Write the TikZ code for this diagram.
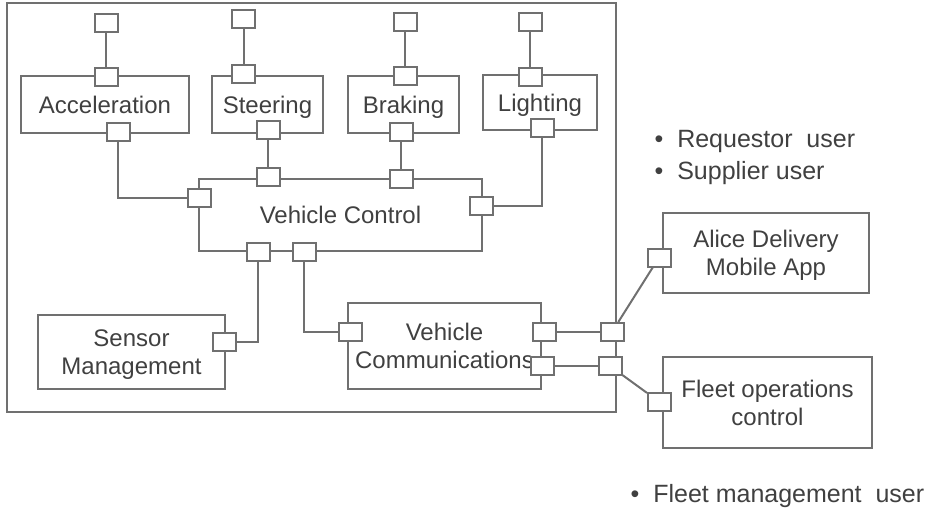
\documentclass[tikz,border=0pt]{standalone}
\usepackage{fontspec}
\setmainfont{Liberation Sans}
\definecolor{linec}{RGB}{112,112,112}
\definecolor{textc}{RGB}{64,64,64}
\begin{document}
\begin{tikzpicture}[x=1pt,y=-1pt,
  every node/.style={text=textc, font=\fontsize{24}{28}\selectfont},
  comp/.style={draw=linec, line width=2pt, inner sep=0pt, align=center},
  one/.style={text height=17pt, text depth=0pt},
  multi/.style={text depth=0pt},
  port/.style={draw=linec, line width=2pt, fill=white, minimum width=23pt, minimum height=18pt, inner sep=0pt},
  wire/.style={draw=linec, line width=2pt},
  bul/.style={anchor=base west, font=\fontsize{25}{30}\selectfont}]
\useasboundingbox (0,0) rectangle (930,509);
% system frame
\node[comp, minimum width=609pt, minimum height=409pt] (sys) at (311.5,207.5) {};
% components
\node[comp, one, minimum width=168pt, minimum height=57pt] (acc) at (105,104.5) {Acceleration};
\node[comp, one, minimum width=111pt, minimum height=57pt] (ste) at (267.5,104.5) {Steering};
\node[comp, one, minimum width=111pt, minimum height=57pt] (bra) at (403.5,104.5) {Braking};
\node[comp, one, minimum width=114pt, minimum height=55pt] (lig) at (540,102.5) {Lighting};
\node[comp, one, minimum width=283pt, minimum height=72pt] (vc) at (340.5,215) {Vehicle Control};
\node[comp, multi, minimum width=187pt, minimum height=74pt] (sen) at (131.5,352) {Sensor\\Management};
\node[comp, multi, minimum width=193pt, minimum height=86pt] (vcom) at (444.5,346) {Vehicle\\Communications};
\node[comp, multi, minimum width=206pt, minimum height=80pt] (app) at (766,253) {Alice Delivery\\Mobile App};
\node[comp, multi, minimum width=209pt, minimum height=91pt] (fle) at (767.5,402.5) {Fleet operations\\control};
% ports
\node[port] (pAe) at (106,23) {};
\node[port] (pAt) at (106,76.5) {};
\node[port] (pAb) at (118,131.5) {};
\node[port] (pSe) at (243.5,19) {};
\node[port] (pSt) at (243.5,74) {};
\node[port] (pSb) at (268,129.5) {};
\node[port] (pBe) at (405,22) {};
\node[port] (pBt) at (405,76) {};
\node[port] (pBb) at (401,132) {};
\node[port] (pLe) at (530,21.5) {};
\node[port] (pLt) at (530,77) {};
\node[port] (pLb) at (542,128) {};
\node[port] (vcS) at (268,176.5) {};
\node[port] (vcB) at (401,179) {};
\node[port] (vcL) at (199.5,197.5) {};
\node[port] (vcR) at (481,205.5) {};
\node[port] (vcb1) at (258,252) {};
\node[port] (vcb2) at (304,252) {};
\node[port] (senP) at (224,342) {};
\node[port] (comL) at (350,332) {};
\node[port] (comR1) at (544,332) {};
\node[port] (comR2) at (542,366) {};
\node[port] (sysR1) at (612,332) {};
\node[port] (sysR2) at (610,366) {};
\node[port] (appP) at (659,257.5) {};
\node[port] (fleP) at (659.5,402) {};
% connectors
\draw[wire] (pAe) -- (pAt);
\draw[wire] (pSe) -- (pSt);
\draw[wire] (pBe) -- (pBt);
\draw[wire] (pLe) -- (pLt);
\draw[wire] (pAb) |- (vcL);
\draw[wire] (pSb) -- (vcS);
\draw[wire] (pBb) -- (vcB);
\draw[wire] (pLb) |- (vcR);
\draw[wire] (vcb1) |- (senP);
\draw[wire] (vcb2) |- (comL);
\draw[wire] (comR1) -- (sysR1);
\draw[wire] (comR2) -- (sysR2);
\draw[wire] (sysR1) -- (appP);
\draw[wire] (sysR2) -- (fleP);
% user notes
\node[bul] (u1) at (651,147.5) {\textbullet\hspace{14pt}Requestor\ \ user};
\node[bul] (u2) at (651,179.5) {\textbullet\hspace{14pt}Supplier user};
\node[bul] (u3) at (627,502) {\textbullet\hspace{14pt}Fleet management\ \ user};
\end{tikzpicture}
\end{document}
